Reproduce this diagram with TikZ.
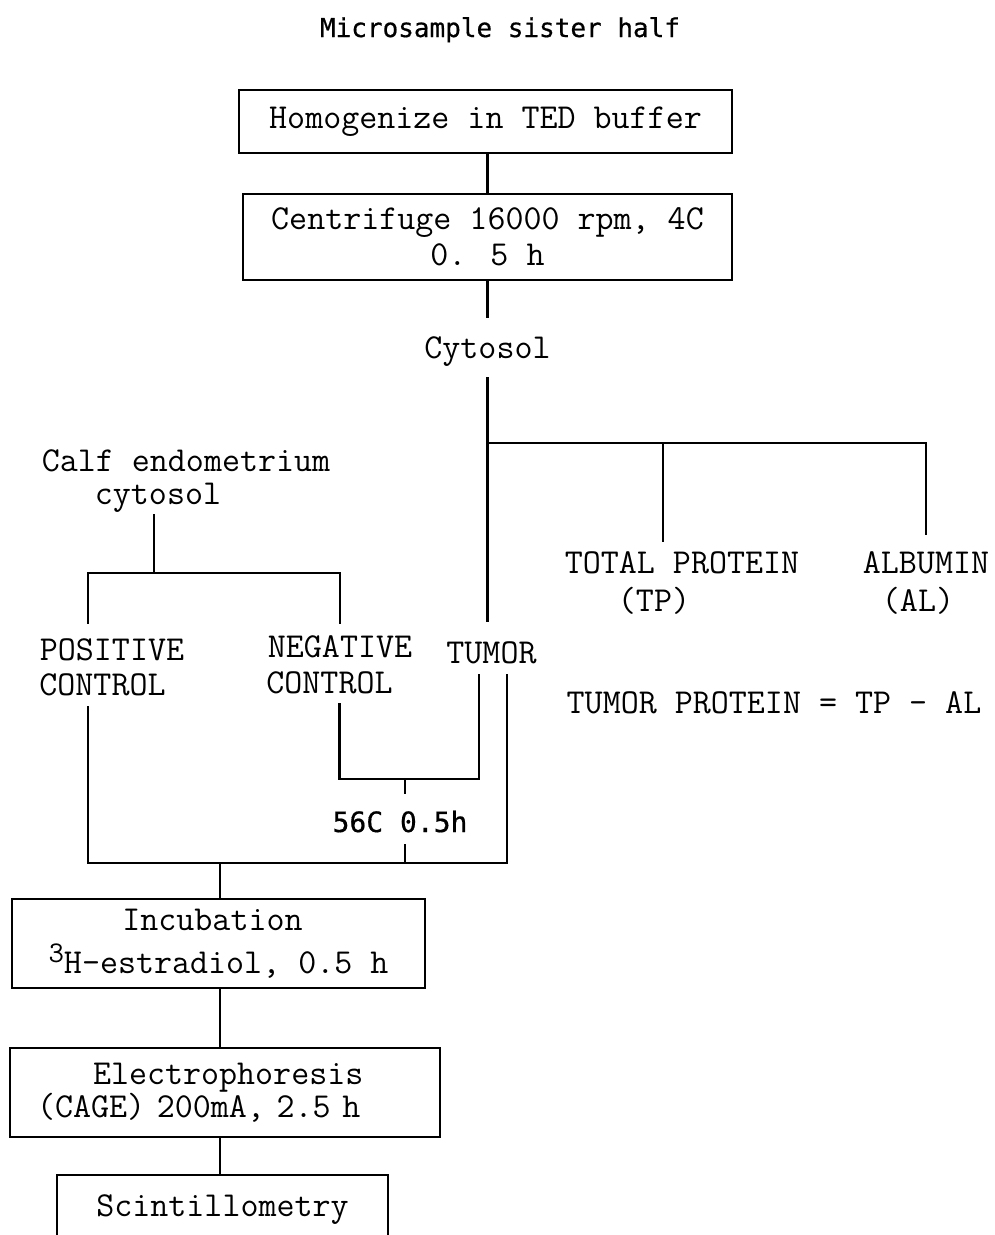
\documentclass[tikz,border=0pt]{standalone}
\usepackage{fontspec}
\newfontfamily\lgoth[FakeBold=0.6]{DejaVu Sans Mono}
\newcommand\monofnt{\ttfamily\addfontfeature{FakeBold=1.6}}
\begin{document}
\begin{tikzpicture}[x=1pt,y=-1pt,line width=2.2pt,
  mfont/.style={font=\monofnt\fontsize{35pt}{36pt}\selectfont},
  lbl/.style={mfont,inner sep=0pt,anchor=base},
  box/.style={draw,mfont,inner sep=0pt,align=center}]
\useasboundingbox (0,0) rectangle (994,1235);
\clip (0,0) rectangle (994,1235);

% title
\node[inner sep=0pt,anchor=base,font=\lgoth\fontsize{26pt}{30pt}\selectfont] (title) at (500,37) {Microsample sister half};

% top boxes
\node[box,minimum width=493pt,minimum height=63pt] (b1) at (485.5,121.5) {Homogenize in TED buffer};
\node[box,minimum width=489pt,minimum height=86pt] (b2) at (487.5,237) {Centrifuge 16000 rpm, 4C\\0. 5 h};

% cytosol
\node[lbl,text height=39pt,text depth=18pt] (cyt) at (487.5,358) {Cytosol};
\coordinate (jc) at (488,443);

% right branch labels
\node[lbl,text height=30pt,text depth=8pt] (tp1) at (682,573) {TOTAL PROTEIN};
\node[lbl] (tp2) at (654,611) {(TP)};
\node[lbl,text height=37pt,text depth=8pt] (al1) at (926,573) {ALBUMIN};
\node[lbl] (al2) at (918,611) {(AL)};
\node[lbl] (eq) at (774,713) {TUMOR PROTEIN = TP - AL};

% left labels
\node[lbl] (calf1) at (186,471) {Calf endometrium};
\node[lbl,text height=22pt,text depth=9pt] (calf2) at (158,504) {cytosol};
\coordinate (jl) at (154,573);
\node[lbl,text height=35pt,text depth=8pt] (pos1) at (112,660) {POSITIVE};
\node[lbl,text height=20pt,text depth=10pt] (pos2) at (102.5,695) {CONTROL};
\node[lbl,text height=32pt,text depth=8pt] (neg1) at (340,657) {NEGATIVE};
\node[lbl,text height=20pt,text depth=9pt] (neg2) at (329.5,693) {CONTROL};
\node[lbl,text height=40pt,text depth=10pt] (tumor) at (491.5,663) {TUMOR};
\coordinate (jn) at (405,779);
\node[inner sep=0pt,anchor=base,font=\lgoth\fontsize{28pt}{32pt}\selectfont,text height=37pt,text depth=11pt] (heat) at (400,832) {56C 0.5h};
\coordinate (jb) at (220,863);

% bottom boxes
\node[box,font=\monofnt\fontsize{35pt}{43pt}\selectfont,minimum width=413pt,minimum height=89pt] (inc) at (218.5,943.5) {\hspace*{-12pt}Incubation\\\raisebox{11pt}{\fontsize{30pt}{30pt}\selectfont 3}H-estradiol, 0.5 h};
\node[box,font=\monofnt\fontsize{35pt}{33pt}\selectfont,align=left,inner xsep=27pt,text width=376pt,minimum height=89pt] (elec) at (225,1092.5) {\hspace*{56pt}Electrophoresis\\(CAGE) 200mA, 2.5 h};
\node[box,minimum width=331pt,minimum height=70pt] (scint) at (222.5,1210) {Scintillometry};

% connectors
\draw (b2.north |- b1.south) -- (b2.north);
\draw (b2.south) -- (cyt.north);
\draw (cyt.south) -- (cyt.south |- tumor.north);
\draw (jc) -| ([xshift=-19pt]tp1.north);
\draw (jc) -| (al1.north);
\draw (calf2.south -| jl) -- (jl);
\draw ([xshift=-24pt]pos1.north) |- (jl) -| (neg1.north);
\draw ([xshift=10pt]neg2.south) |- (jn) -| ([xshift=-12.5pt]tumor.south);
\draw (jn) -- (heat.north -| jn);
\draw (heat.south -| jn) -- (jn |- jb);
\draw ([xshift=-14.5pt]pos2.south) |- (jb) -| ([xshift=15.5pt]tumor.south);
\draw (jb) -- (jb |- inc.north);
\draw (jb |- inc.south) -- (jb |- elec.north);
\draw (jb |- elec.south) -- (jb |- scint.north);
\end{tikzpicture}
\end{document}
